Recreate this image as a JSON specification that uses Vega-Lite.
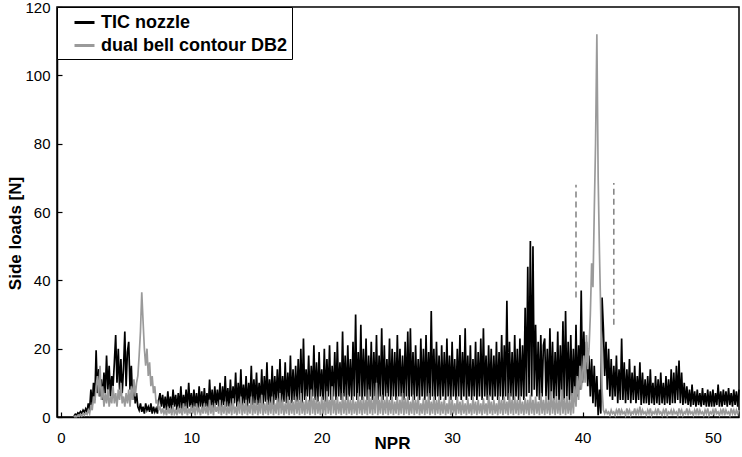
{
"$schema": "https://vega.github.io/schema/vega-lite/v6.json",
"width": 682,
"height": 410,
"autosize": {"type": "none"},
"padding": {"left": 57, "top": 7, "right": 3, "bottom": 40},
"background": "white",
"config": {
  "view": {"stroke": "black", "strokeWidth": 1.5},
  "font": "Liberation Sans",
  "axis": {"domainColor": "black", "domainWidth": 1.5, "tickColor": "black", "tickWidth": 1.2, "tickSize": -5, "labelColor": "black", "titleColor": "black", "labelFont": "Liberation Sans", "labelFontSize": 15, "titleFont": "Liberation Sans", "titleFontSize": 17, "titleFontWeight": "bold", "grid": false}
},
"datasets": {
"s": [
{"x":1.0,"a":0.3,"b":0},{"x":1.1,"a":0.8,"b":0.3},{"x":1.2,"a":0.5,"b":0.1},{"x":1.3,"a":1.2,"b":0.5},{"x":1.4,"a":0.9,"b":0.2},{"x":1.5,"a":1.6,"b":0.8},{"x":1.6,"a":1.1,"b":0.3},{"x":1.7,"a":2.0,"b":1},{"x":1.8,"a":1.4,"b":0.5},{"x":1.9,"a":2.4,"b":1.2},
{"x":2.0,"a":1.5,"b":0.8},{"x":2.1,"a":4,"b":2},{"x":2.2,"a":2,"b":1},{"x":2.3,"a":8,"b":3.5},{"x":2.4,"a":3.5,"b":2},{"x":2.5,"a":10,"b":6},{"x":2.6,"a":5,"b":4},{"x":2.7,"a":19.5,"b":9},{"x":2.8,"a":7,"b":12},{"x":2.9,"a":14,"b":6},
{"x":3.0,"a":6,"b":15},{"x":3.1,"a":11,"b":5},{"x":3.2,"a":5,"b":9},{"x":3.3,"a":13,"b":3},{"x":3.4,"a":7,"b":7},{"x":3.5,"a":18,"b":4},{"x":3.6,"a":8,"b":8},{"x":3.7,"a":15,"b":3},{"x":3.8,"a":6,"b":6},{"x":3.9,"a":12,"b":4},
{"x":4.0,"a":9,"b":9},{"x":4.1,"a":16,"b":4},{"x":4.2,"a":24,"b":7},{"x":4.3,"a":10,"b":3},{"x":4.4,"a":20,"b":8},{"x":4.5,"a":8,"b":5},{"x":4.6,"a":17,"b":10},{"x":4.7,"a":7,"b":4},{"x":4.8,"a":14,"b":6},{"x":4.9,"a":25,"b":3},
{"x":5.0,"a":9,"b":7},{"x":5.1,"a":19,"b":4},{"x":5.2,"a":22,"b":8},{"x":5.3,"a":8,"b":3},{"x":5.4,"a":15,"b":9},{"x":5.5,"a":5,"b":5},{"x":5.6,"a":10,"b":11},{"x":5.7,"a":4,"b":6},{"x":5.8,"a":7,"b":10},{"x":5.9,"a":3,"b":12},
{"x":6.0,"a":2,"b":18},{"x":6.1,"a":4,"b":25},{"x":6.2,"a":1.5,"b":36.5},{"x":6.3,"a":3,"b":28},{"x":6.4,"a":1,"b":20},{"x":6.5,"a":4,"b":15},{"x":6.6,"a":2,"b":20},{"x":6.7,"a":3,"b":12},{"x":6.8,"a":1.5,"b":16},{"x":6.9,"a":4,"b":9},
{"x":7.0,"a":1,"b":12},{"x":7.1,"a":3,"b":7},{"x":7.2,"a":1.5,"b":9},{"x":7.3,"a":2.5,"b":4},{"x":7.4,"a":1,"b":5},{"x":7.5,"a":5,"b":2},{"x":7.6,"a":7,"b":3},{"x":7.7,"a":3,"b":1},{"x":7.8,"a":6.5,"b":2.5},{"x":7.9,"a":2.5,"b":1},
{"x":8.0,"a":6,"b":2},{"x":8.1,"a":2,"b":0.5},{"x":8.2,"a":7.5,"b":3},{"x":8.3,"a":2.5,"b":1},{"x":8.4,"a":6,"b":2.5},{"x":8.5,"a":2,"b":0.5},{"x":8.6,"a":8,"b":3.5},{"x":8.7,"a":3,"b":1},{"x":8.8,"a":6.5,"b":2},{"x":8.9,"a":2,"b":0.5},
{"x":9.0,"a":7,"b":3},{"x":9.1,"a":2.5,"b":1},{"x":9.2,"a":9,"b":2.5},{"x":9.3,"a":2,"b":0.5},{"x":9.4,"a":6.5,"b":4},{"x":9.5,"a":3,"b":1},{"x":9.6,"a":8,"b":3},{"x":9.7,"a":2.5,"b":0.5},{"x":9.8,"a":10,"b":2.5},{"x":9.9,"a":3,"b":1},
{"x":10.0,"a":7,"b":3.5},{"x":10.1,"a":2.5,"b":1},{"x":10.2,"a":8,"b":3},{"x":10.3,"a":3,"b":0.5},{"x":10.4,"a":7,"b":4},{"x":10.5,"a":2,"b":1.5},{"x":10.6,"a":9,"b":2.5},{"x":10.7,"a":3,"b":0.5},{"x":10.8,"a":7.5,"b":3},{"x":10.9,"a":2.5,"b":1},
{"x":11.0,"a":8.5,"b":4},{"x":11.1,"a":3,"b":1},{"x":11.2,"a":7,"b":3},{"x":11.3,"a":2.5,"b":0.5},{"x":11.4,"a":11,"b":5},{"x":11.5,"a":3,"b":1},{"x":11.6,"a":8,"b":3.5},{"x":11.7,"a":2.5,"b":0.5},{"x":11.8,"a":9,"b":4},{"x":11.9,"a":3.5,"b":1.5},
{"x":12.0,"a":8,"b":3},{"x":12.1,"a":3,"b":1},{"x":12.2,"a":10,"b":5},{"x":12.3,"a":2.5,"b":0.5},{"x":12.4,"a":9,"b":3.5},{"x":12.5,"a":3.5,"b":1},{"x":12.6,"a":12,"b":4.5},{"x":12.7,"a":3,"b":0.5},{"x":12.8,"a":8.5,"b":3},{"x":12.9,"a":3,"b":1},
{"x":13.0,"a":11,"b":4},{"x":13.1,"a":3,"b":0.5},{"x":13.2,"a":9,"b":5.5},{"x":13.3,"a":4,"b":1},{"x":13.4,"a":13,"b":3},{"x":13.5,"a":3,"b":0.5},{"x":13.6,"a":10,"b":4.5},{"x":13.7,"a":3.5,"b":1},{"x":13.8,"a":14,"b":6},{"x":13.9,"a":3,"b":0.5},
{"x":14.0,"a":9.5,"b":4},{"x":14.1,"a":4,"b":1},{"x":14.2,"a":12,"b":5},{"x":14.3,"a":3,"b":0.5},{"x":14.4,"a":10,"b":3.5},{"x":14.5,"a":4,"b":1},{"x":14.6,"a":15,"b":6},{"x":14.7,"a":3.5,"b":0.5},{"x":14.8,"a":11,"b":4},{"x":14.9,"a":4,"b":1},
{"x":15.0,"a":13,"b":5},{"x":15.1,"a":3.5,"b":0.5},{"x":15.2,"a":10,"b":4},{"x":15.3,"a":4,"b":1},{"x":15.4,"a":14,"b":6.5},{"x":15.5,"a":3,"b":0.5},{"x":15.6,"a":12,"b":4},{"x":15.7,"a":4.5,"b":1},{"x":15.8,"a":16,"b":5},{"x":15.9,"a":3.5,"b":0.5},
{"x":16.0,"a":11,"b":4.5},{"x":16.1,"a":4,"b":1},{"x":16.2,"a":15,"b":6},{"x":16.3,"a":3.5,"b":0.5},{"x":16.4,"a":12,"b":4},{"x":16.5,"a":5,"b":1},{"x":16.6,"a":14,"b":5.5},{"x":16.7,"a":4,"b":0.5},{"x":16.8,"a":17,"b":7},{"x":16.9,"a":4,"b":1},
{"x":17.0,"a":12,"b":5},{"x":17.1,"a":4.5,"b":0.5},{"x":17.2,"a":16,"b":4},{"x":17.3,"a":4,"b":1},{"x":17.4,"a":13,"b":6},{"x":17.5,"a":5,"b":0.5},{"x":17.6,"a":18,"b":5},{"x":17.7,"a":4,"b":1},{"x":17.8,"a":14,"b":4.5},{"x":17.9,"a":5,"b":0.5},
{"x":18.0,"a":15,"b":6},{"x":18.1,"a":4.5,"b":1},{"x":18.2,"a":17,"b":5},{"x":18.3,"a":5,"b":0.5},{"x":18.4,"a":20,"b":7},{"x":18.5,"a":4,"b":1},{"x":18.6,"a":23,"b":4.5},{"x":18.7,"a":5,"b":0.5},{"x":18.8,"a":14,"b":6},{"x":18.9,"a":6,"b":1},
{"x":19.0,"a":18,"b":5},{"x":19.1,"a":4.5,"b":0.5},{"x":19.2,"a":15,"b":8},{"x":19.3,"a":6,"b":1},{"x":19.4,"a":21,"b":5.5},{"x":19.5,"a":5,"b":0.5},{"x":19.6,"a":16,"b":6},{"x":19.7,"a":4.5,"b":1},{"x":19.8,"a":19,"b":4.5},{"x":19.9,"a":6,"b":0.5},
{"x":20.0,"a":14,"b":6},{"x":20.1,"a":5,"b":1},{"x":20.2,"a":20,"b":5},{"x":20.3,"a":4.5,"b":0.5},{"x":20.4,"a":17,"b":7.5},{"x":20.5,"a":6,"b":1},{"x":20.6,"a":21,"b":5},{"x":20.7,"a":5,"b":0.5},{"x":20.8,"a":15,"b":9},{"x":20.9,"a":6,"b":1},
{"x":21.0,"a":19,"b":5},{"x":21.1,"a":5,"b":0.5},{"x":21.2,"a":22,"b":6},{"x":21.3,"a":6,"b":1},{"x":21.4,"a":16,"b":4.5},{"x":21.5,"a":5,"b":0.5},{"x":21.6,"a":25,"b":7},{"x":21.7,"a":6,"b":1},{"x":21.8,"a":18,"b":5},{"x":21.9,"a":5,"b":0.5},
{"x":22.0,"a":21,"b":6.5},{"x":22.1,"a":6,"b":1},{"x":22.2,"a":17,"b":5},{"x":22.3,"a":5,"b":0.5},{"x":22.4,"a":22,"b":6},{"x":22.5,"a":6,"b":1},{"x":22.6,"a":30,"b":4.5},{"x":22.7,"a":5,"b":0.5},{"x":22.8,"a":19,"b":7},{"x":22.9,"a":6,"b":1},
{"x":23.0,"a":27,"b":5},{"x":23.1,"a":5,"b":0.5},{"x":23.2,"a":20,"b":6},{"x":23.3,"a":6,"b":1},{"x":23.4,"a":23,"b":5},{"x":23.5,"a":5,"b":0.5},{"x":23.6,"a":18,"b":8},{"x":23.7,"a":6,"b":1},{"x":23.8,"a":22,"b":5.5},{"x":23.9,"a":5,"b":0.5},
{"x":24.0,"a":19,"b":6},{"x":24.1,"a":6,"b":1},{"x":24.2,"a":24,"b":10},{"x":24.3,"a":5,"b":0.5},{"x":24.4,"a":18,"b":5},{"x":24.5,"a":6,"b":1},{"x":24.6,"a":26,"b":6.5},{"x":24.7,"a":5,"b":0.5},{"x":24.8,"a":21,"b":5},{"x":24.9,"a":6,"b":1},
{"x":25.0,"a":17,"b":7},{"x":25.1,"a":6,"b":0.5},{"x":25.2,"a":23,"b":5},{"x":25.3,"a":5,"b":1},{"x":25.4,"a":20,"b":6},{"x":25.5,"a":6,"b":0.5},{"x":25.6,"a":19,"b":4.5},{"x":25.7,"a":5,"b":1},{"x":25.8,"a":24,"b":6},{"x":25.9,"a":6,"b":0.5},
{"x":26.0,"a":20,"b":5},{"x":26.1,"a":6,"b":1},{"x":26.2,"a":18,"b":7},{"x":26.3,"a":5,"b":0.5},{"x":26.4,"a":22,"b":5.5},{"x":26.5,"a":6,"b":1},{"x":26.6,"a":25,"b":6},{"x":26.7,"a":5,"b":0.5},{"x":26.8,"a":26,"b":4.5},{"x":26.9,"a":6,"b":1},
{"x":27.0,"a":19,"b":6.5},{"x":27.1,"a":5,"b":0.5},{"x":27.2,"a":21,"b":5},{"x":27.3,"a":6,"b":1},{"x":27.4,"a":17,"b":6},{"x":27.5,"a":5,"b":0.5},{"x":27.6,"a":23,"b":4},{"x":27.7,"a":6,"b":1},{"x":27.8,"a":20,"b":5.5},{"x":27.9,"a":5,"b":0.5},
{"x":28.0,"a":24,"b":5},{"x":28.1,"a":6,"b":1},{"x":28.2,"a":19,"b":7},{"x":28.3,"a":5,"b":0.5},{"x":28.4,"a":31,"b":4.5},{"x":28.5,"a":6,"b":1},{"x":28.6,"a":20,"b":6},{"x":28.7,"a":5,"b":0.5},{"x":28.8,"a":22,"b":5},{"x":28.9,"a":6,"b":1},
{"x":29.0,"a":18,"b":6},{"x":29.1,"a":5,"b":0.5},{"x":29.2,"a":21,"b":4.5},{"x":29.3,"a":6,"b":1},{"x":29.4,"a":19,"b":5.5},{"x":29.5,"a":5,"b":0.5},{"x":29.6,"a":23,"b":4},{"x":29.7,"a":6,"b":1},{"x":29.8,"a":18,"b":6},{"x":29.9,"a":5,"b":0.5},
{"x":30.0,"a":22,"b":5},{"x":30.1,"a":6,"b":1},{"x":30.2,"a":17,"b":4},{"x":30.3,"a":5,"b":0.5},{"x":30.4,"a":20,"b":6},{"x":30.5,"a":6,"b":1},{"x":30.6,"a":24,"b":4.5},{"x":30.7,"a":5,"b":0.5},{"x":30.8,"a":19,"b":5},{"x":30.9,"a":6,"b":1},
{"x":31.0,"a":26,"b":4},{"x":31.1,"a":5,"b":0.5},{"x":31.2,"a":18,"b":5.5},{"x":31.3,"a":6,"b":1},{"x":31.4,"a":21,"b":4},{"x":31.5,"a":5,"b":0.5},{"x":31.6,"a":17,"b":6},{"x":31.7,"a":6,"b":1},{"x":31.8,"a":22,"b":4.5},{"x":31.9,"a":5,"b":0.5},
{"x":32.0,"a":19,"b":5},{"x":32.1,"a":6,"b":1},{"x":32.2,"a":23,"b":4},{"x":32.3,"a":5,"b":0.5},{"x":32.4,"a":26,"b":5.5},{"x":32.5,"a":6,"b":1},{"x":32.6,"a":18,"b":4},{"x":32.7,"a":5,"b":0.5},{"x":32.8,"a":21,"b":6.5},{"x":32.9,"a":6,"b":1},
{"x":33.0,"a":20,"b":4.5},{"x":33.1,"a":5,"b":0.5},{"x":33.2,"a":18,"b":5},{"x":33.3,"a":6,"b":1},{"x":33.4,"a":22,"b":4},{"x":33.5,"a":5,"b":0.5},{"x":33.6,"a":19,"b":6},{"x":33.7,"a":6,"b":1},{"x":33.8,"a":24,"b":5},{"x":33.9,"a":5,"b":0.5},
{"x":34.0,"a":21,"b":6},{"x":34.1,"a":6,"b":1},{"x":34.2,"a":34,"b":4.5},{"x":34.3,"a":5,"b":0.5},{"x":34.4,"a":22,"b":7},{"x":34.5,"a":6,"b":1},{"x":34.6,"a":19,"b":5},{"x":34.7,"a":5,"b":0.5},{"x":34.8,"a":24,"b":6},{"x":34.9,"a":6,"b":1},
{"x":35.0,"a":20,"b":5},{"x":35.1,"a":5,"b":0.5},{"x":35.2,"a":23,"b":6},{"x":35.3,"a":6,"b":1},{"x":35.4,"a":21,"b":4.5},{"x":35.5,"a":5,"b":0.5},{"x":35.6,"a":32,"b":5.5},{"x":35.7,"a":6,"b":1},{"x":35.8,"a":44,"b":5},{"x":35.9,"a":7,"b":0.5},
{"x":36.0,"a":51.5,"b":6.5},{"x":36.1,"a":6,"b":1},{"x":36.2,"a":50,"b":5},{"x":36.3,"a":8,"b":0.5},{"x":36.4,"a":27,"b":6},{"x":36.5,"a":6,"b":1},{"x":36.6,"a":22,"b":4.5},{"x":36.7,"a":5,"b":0.5},{"x":36.8,"a":24,"b":7},{"x":36.9,"a":6,"b":1},
{"x":37.0,"a":21,"b":5},{"x":37.1,"a":23,"b":0.5},{"x":37.2,"a":6,"b":6},{"x":37.3,"a":20,"b":1},{"x":37.4,"a":5,"b":5},{"x":37.5,"a":26,"b":0.5},{"x":37.6,"a":6,"b":7.5},{"x":37.7,"a":22,"b":1},{"x":37.8,"a":5,"b":5.5},{"x":37.9,"a":19,"b":0.5},
{"x":38.0,"a":6,"b":6},{"x":38.1,"a":25,"b":1},{"x":38.2,"a":5,"b":5},{"x":38.3,"a":21,"b":0.5},{"x":38.4,"a":6,"b":8},{"x":38.5,"a":28,"b":1},{"x":38.6,"a":5,"b":5.5},{"x":38.7,"a":31,"b":0.5},{"x":38.8,"a":6,"b":6},{"x":38.9,"a":22,"b":1},
{"x":39.0,"a":5,"b":5},{"x":39.1,"a":24,"b":0.5},{"x":39.2,"a":6,"b":7},{"x":39.3,"a":20,"b":1},{"x":39.4,"a":5,"b":9},{"x":39.5,"a":27,"b":3},{"x":39.6,"a":6,"b":12},{"x":39.7,"a":21,"b":5},{"x":39.8,"a":8,"b":15},{"x":39.9,"a":37,"b":8},
{"x":40.0,"a":10,"b":12},{"x":40.1,"a":25,"b":18},{"x":40.2,"a":12,"b":10},{"x":40.3,"a":22,"b":24},{"x":40.4,"a":9,"b":14},{"x":40.5,"a":18,"b":20},{"x":40.6,"a":6,"b":30},{"x":40.7,"a":17,"b":45},{"x":40.8,"a":4,"b":38},{"x":40.9,"a":15,"b":60},
{"x":41.0,"a":3,"b":80},{"x":41.1,"a":12,"b":112},{"x":41.2,"a":0.5,"b":70},{"x":41.3,"a":8,"b":48},{"x":41.4,"a":1,"b":30},{"x":41.5,"a":35,"b":8},{"x":41.6,"a":26,"b":2},{"x":41.7,"a":12,"b":1},{"x":41.8,"a":22,"b":2},{"x":41.9,"a":8,"b":1},
{"x":42.0,"a":20,"b":1.5},{"x":42.1,"a":6,"b":0.5},{"x":42.2,"a":17,"b":2},{"x":42.3,"a":5,"b":1},{"x":42.4,"a":15,"b":1.5},{"x":42.5,"a":6,"b":0.5},{"x":42.6,"a":18,"b":2},{"x":42.7,"a":4,"b":1},{"x":42.8,"a":14,"b":2.5},{"x":42.9,"a":5,"b":0.5},
{"x":43.0,"a":23,"b":2},{"x":43.1,"a":5,"b":1},{"x":43.2,"a":16,"b":1.5},{"x":43.3,"a":4,"b":0.5},{"x":43.4,"a":14,"b":2.5},{"x":43.5,"a":5,"b":1},{"x":43.6,"a":17,"b":2},{"x":43.7,"a":4,"b":0.5},{"x":43.8,"a":13,"b":1.5},{"x":43.9,"a":5,"b":1},
{"x":44.0,"a":15,"b":2.5},{"x":44.1,"a":4,"b":0.5},{"x":44.2,"a":12,"b":2},{"x":44.3,"a":5,"b":1},{"x":44.4,"a":16,"b":3},{"x":44.5,"a":3.5,"b":0.5},{"x":44.6,"a":13,"b":2},{"x":44.7,"a":4,"b":1},{"x":44.8,"a":11,"b":1.5},{"x":44.9,"a":4,"b":0.5},
{"x":45.0,"a":12,"b":2},{"x":45.1,"a":3.5,"b":1},{"x":45.2,"a":14,"b":2.5},{"x":45.3,"a":4,"b":0.5},{"x":45.4,"a":10,"b":1.5},{"x":45.5,"a":3.5,"b":1},{"x":45.6,"a":12,"b":2},{"x":45.7,"a":4,"b":0.5},{"x":45.8,"a":11,"b":2.5},{"x":45.9,"a":3.5,"b":1},
{"x":46.0,"a":13,"b":1.5},{"x":46.1,"a":4,"b":0.5},{"x":46.2,"a":10,"b":2},{"x":46.3,"a":3.5,"b":1},{"x":46.4,"a":12,"b":2.5},{"x":46.5,"a":4,"b":0.5},{"x":46.6,"a":11,"b":1.5},{"x":46.7,"a":3.5,"b":1},{"x":46.8,"a":14,"b":2},{"x":46.9,"a":4,"b":0.5},
{"x":47.0,"a":13,"b":2},{"x":47.1,"a":4,"b":1},{"x":47.2,"a":15,"b":1.5},{"x":47.3,"a":5,"b":0.5},{"x":47.4,"a":16.5,"b":2.5},{"x":47.5,"a":4,"b":1},{"x":47.6,"a":13,"b":2},{"x":47.7,"a":3.5,"b":0.5},{"x":47.8,"a":10,"b":1.5},{"x":47.9,"a":4,"b":1},
{"x":48.0,"a":9,"b":2.5},{"x":48.1,"a":3.5,"b":0.5},{"x":48.2,"a":8,"b":2},{"x":48.3,"a":3,"b":1},{"x":48.4,"a":9.5,"b":1.5},{"x":48.5,"a":3.5,"b":0.5},{"x":48.6,"a":7.5,"b":2},{"x":48.7,"a":3,"b":1},{"x":48.8,"a":8,"b":2.5},{"x":48.9,"a":3.5,"b":0.5},
{"x":49.0,"a":7,"b":2},{"x":49.1,"a":3,"b":1},{"x":49.2,"a":8.5,"b":1.5},{"x":49.3,"a":3.5,"b":0.5},{"x":49.4,"a":7,"b":2},{"x":49.5,"a":3,"b":1},{"x":49.6,"a":8,"b":2.5},{"x":49.7,"a":3,"b":0.5},{"x":49.8,"a":7.5,"b":1.5},{"x":49.9,"a":3,"b":1},
{"x":50.0,"a":8,"b":2},{"x":50.1,"a":3,"b":0.5},{"x":50.2,"a":7,"b":2.5},{"x":50.3,"a":3.5,"b":1},{"x":50.4,"a":9.5,"b":1.5},{"x":50.5,"a":3,"b":0.5},{"x":50.6,"a":7.5,"b":2},{"x":50.7,"a":3,"b":1},{"x":50.8,"a":8,"b":2.5},{"x":50.9,"a":3.5,"b":0.5},
{"x":51.0,"a":7.5,"b":2},{"x":51.1,"a":3,"b":1},{"x":51.2,"a":8.5,"b":1.5},{"x":51.3,"a":3.5,"b":0.5},{"x":51.4,"a":7,"b":2.5},{"x":51.5,"a":3,"b":1},{"x":51.6,"a":8,"b":2},{"x":51.7,"a":3.5,"b":0.5},{"x":51.8,"a":7.5,"b":2},{"x":51.9,"a":3,"b":1},
{"x":52.0,"a":8,"b":2}
],
"d": [{"x": 39.5, "y": 35, "y2": 68}, {"x": 42.4, "y": 27, "y2": 68.5}]
},
"layer": [
  {
    "data": {"name": "s"},
    "mark": {"type": "line", "strokeWidth": 1.7},
    "encoding": {
      "x": {"field": "x", "type": "quantitative", "scale": {"domain": [-0.3, 52], "nice": false, "zero": false},
            "axis": {"values": [0, 10, 20, 30, 40, 50], "labelPadding": 18, "title": "NPR", "titleX": 335, "titleY": 26, "titleBaseline": "middle", "titleAlign": "center"}},
      "y": {"field": "a", "type": "quantitative", "scale": {"domain": [0, 120], "nice": false},
            "axis": {"values": [0, 20, 40, 60, 80, 100, 120], "labelPadding": 12, "title": "Side loads [N]", "titleX": -42, "titleY": 226, "titleAngle": 270, "titleBaseline": "middle", "titleAlign": "center"}},
      "color": {"datum": "TIC nozzle", "type": "nominal",
        "scale": {"domain": ["TIC nozzle", "dual bell contour DB2"], "range": ["#000000", "#9a9a9a"]},
        "legend": {"orient": "none", "legendX": 0, "legendY": 0, "title": null, "strokeColor": "black", "fillColor": "white", "padding": 4, "labelFont": "Liberation Sans", "labelFontSize": 18, "labelFontWeight": "bold", "labelColor": "black", "labelLimit": 400, "symbolType": "stroke", "symbolSize": 400, "symbolStrokeWidth": 3, "symbolOffset": 12, "rowPadding": 2, "labelOffset": 5, "cornerRadius": 0}}
    }
  },
  {
    "data": {"name": "s"},
    "mark": {"type": "line", "strokeWidth": 1.7},
    "encoding": {
      "x": {"field": "x", "type": "quantitative"},
      "y": {"field": "b", "type": "quantitative", "axis": {"title": "Side loads [N]"}},
      "color": {"datum": "dual bell contour DB2", "type": "nominal"}
    }
  },
  {
    "data": {"name": "d"},
    "mark": {"type": "rule", "strokeDash": [6, 4], "color": "#808080", "strokeWidth": 1.5},
    "encoding": {
      "x": {"field": "x", "type": "quantitative"},
      "y": {"field": "y", "type": "quantitative"},
      "y2": {"field": "y2"}
    }
  }
]
}
